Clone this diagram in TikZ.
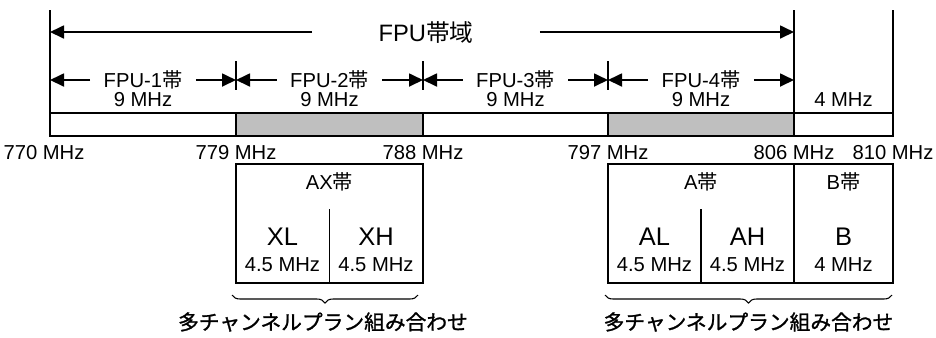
\documentclass[tikz,border=0pt]{standalone}
\usepackage{fontspec}
\setmainfont{Liberation Sans}
\newfontfamily\jp{Noto Sans CJK JP}
\newfontfamily\jpmid{Noto Sans CJK JP}[FakeBold=1.2]
\usetikzlibrary{arrows.meta,calc,decorations.pathreplacing}

\begin{document}
\begin{tikzpicture}[
    >={Triangle[length=0.28cm,width=0.26cm]},
    line width=1pt,
    lbl/.style={font=\fontsize{11.5}{13}\selectfont, inner sep=0pt},
    big/.style={font=\fontsize{14.5}{16}\selectfont, inner sep=0pt},
    span/.style={lbl, minimum width=2.08cm, minimum height=0.3cm},
    grp/.style={font=\fontsize{11.8}{14}\selectfont\jpmid, inner sep=0pt},
    brc/.style={decorate, decoration={brace, mirror, amplitude=0.16cm}, line width=0.6pt}
  ]
  \useasboundingbox (0,0) rectangle (18.72,-6.74);

  % band edges
  \coordinate (f770) at (1.00,0);
  \coordinate (f779) at (4.72,0);
  \coordinate (f788) at (8.46,0);
  \coordinate (f797) at (12.16,0);
  \coordinate (f806) at (15.88,0);
  \coordinate (f810) at (17.86,0);

  % bar
  \draw (1,-2.26) rectangle (17.86,-2.72);
  \draw[fill=gray!50] (4.72,-2.26) rectangle (8.46,-2.72);
  \draw[fill=gray!50] (12.16,-2.26) rectangle (15.88,-2.72);
  \draw (f770) ++(0,-0.2) -- (1,-2.72);
  \draw (f806) ++(0,-0.2) -- (15.88,-2.72);
  \draw (f810) ++(0,-0.2) -- (17.86,-2.72);
  \foreach \x in {4.72,8.46,12.16}
    \draw (\x,-1.22) -- (\x,-1.8);

  % whole FPU band
  \node[font=\fontsize{13.5}{15}\selectfont, inner sep=0pt, minimum width=4.52cm] (fpu) at (8.52,-0.64) {FPU{\jp 帯域}};
  \draw[->] (fpu) -- (f770 |- fpu);
  \draw[->] (fpu) -- (f806 |- fpu);

  % FPU-1 .. FPU-4
  \foreach \a/\b/\n in {f770/f779/1, f779/f788/2, f788/f797/3, f797/f806/4} {
    \node[span] (fpu\n) at ($(\a)!0.5!(\b)+(0,-1.6)$) {FPU-\n{\jp 帯}};
    \node[lbl] (bw\n) at ($(\a)!0.5!(\b)+(0,-2.0)$) {9 MHz};
    \draw[->] (fpu\n) -- (\a |- fpu\n);
    \draw[->] (fpu\n) -- (\b |- fpu\n);
  }
  \node[lbl] (bw5) at ($(f806)!0.5!(f810)+(0,-2.0)$) {4 MHz};

  % frequencies
  \node[lbl] (l770) at (0.88,-3.06) {770 MHz};
  \foreach \c/\t in {f779/779, f788/788, f797/797, f806/806, f810/810}
    \node[lbl] (l\t) at ($(\c)+(0,-3.06)$) {\t{} MHz};

  % AX band
  \draw (4.72,-3.28) rectangle (8.46,-5.66);
  \draw (6.59,-4.18) -- (6.59,-5.66);
  \node[lbl] (ax) at (6.59,-3.64) {AX{\jp 帯}};
  \node[big] (xl) at (5.65,-4.74) {XL};
  \node[big] (xh) at (7.52,-4.74) {XH};
  \node[lbl] (xlw) at (5.65,-5.3) {4.5 MHz};
  \node[lbl] (xhw) at (7.52,-5.3) {4.5 MHz};

  % A and B bands
  \draw (12.16,-3.28) rectangle (17.86,-5.66);
  \draw (15.88,-3.28) -- (15.88,-5.66);
  \draw (14.02,-4.18) -- (14.02,-5.66);
  \node[lbl] (aband) at (14.02,-3.64) {A{\jp 帯}};
  \node[lbl] (bband) at (16.87,-3.64) {B{\jp 帯}};
  \node[big] (al) at (13.09,-4.74) {AL};
  \node[big] (ah) at (14.95,-4.74) {AH};
  \node[big] (b) at (16.87,-4.74) {B};
  \node[lbl] (alw) at (13.09,-5.3) {4.5 MHz};
  \node[lbl] (ahw) at (14.95,-5.3) {4.5 MHz};
  \node[lbl] (bw) at (16.87,-5.3) {4 MHz};

  % channel plans
  \draw[brc] (4.64,-5.9) -- (8.36,-5.9);
  \draw[brc] (12.1,-5.9) -- (17.84,-5.9);
  \node[grp] (plan1) at (6.46,-6.44) {多チャンネルプラン組み合わせ};
  \node[grp] (plan2) at (14.97,-6.44) {多チャンネルプラン組み合わせ};
\end{tikzpicture}
\end{document}
